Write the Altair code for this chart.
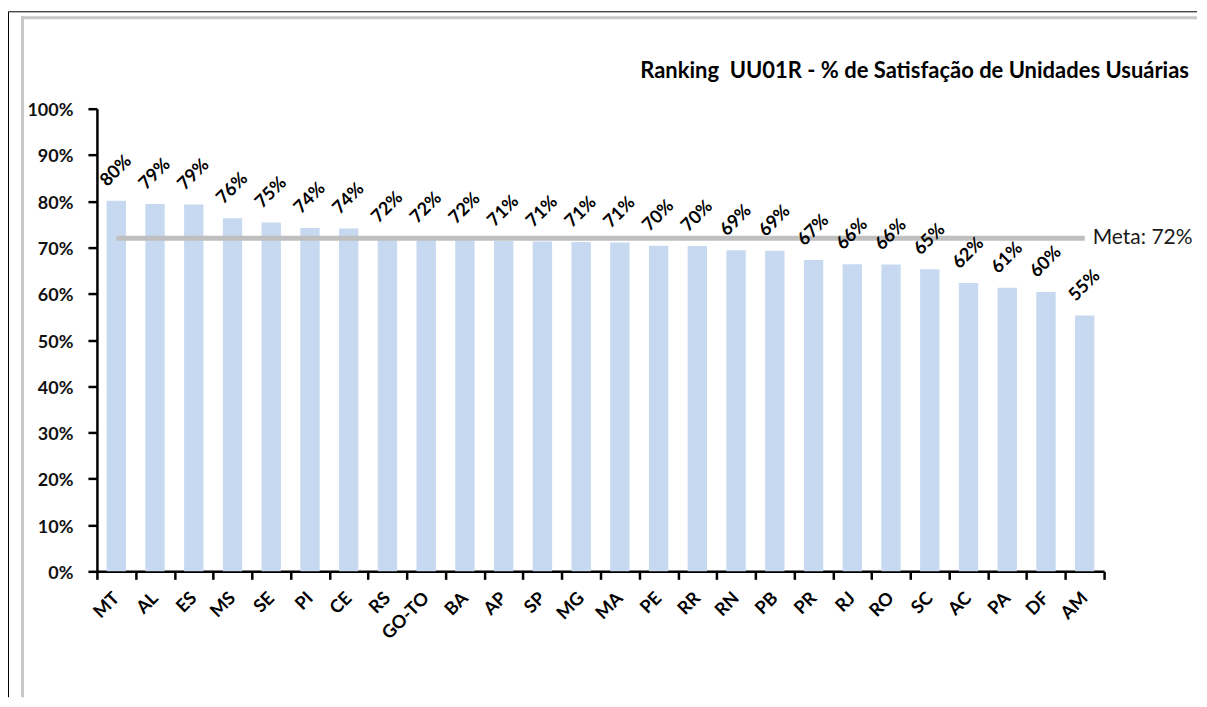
import altair as alt
import pandas as pd

states = ["MT", "AL", "ES", "MS", "SE", "PI", "CE", "RS", "GO-TO", "BA", "AP", "SP", "MG",
          "MA", "PE", "RR", "RN", "PB", "PR", "RJ", "RO", "SC", "AC", "PA", "DF", "AM"]
values = [80.1, 79.4, 79.3, 76.3, 75.4, 74.2, 74.1, 72.2, 72.1, 72.0, 71.4, 71.3, 71.2,
          71.1, 70.4, 70.3, 69.4, 69.3, 67.3, 66.4, 66.3, 65.3, 62.3, 61.3, 60.4, 55.3]
meta_value = 72
meta_label = "Meta: 72%"
title_text = "Ranking\u00a0 UU01R - % de Satisfação de Unidades Usuárias"
y_ticks = [0, 10, 20, 30, 40, 50, 60, 70, 80, 90, 100]

FONT = "Lato"

df = pd.DataFrame({"uf": states, "v": values})
df["label"] = [f"{round(v):.0f}%" for v in values]
df["meta"] = meta_value

meta_df = pd.DataFrame({"uf": [states[-1]], "meta": [meta_value], "t": [meta_label]})
one = pd.DataFrame({"a": [0]})
title_df = pd.DataFrame({"t": [title_text]})

x_enc = alt.X(
    "uf:N", sort=states,
    scale=alt.Scale(paddingInner=0, paddingOuter=0),
    axis=alt.Axis(
        title=None, labelAngle=-45, labelAlign="right", labelBaseline="middle",
        labelPadding=16, tickBand="extent", tickSize=8, tickWidth=2.5, tickColor="black",
        domainColor="black", domainWidth=2.5, labelFontSize=18, labelFontWeight="bold",
        labelFont=FONT, labelColor="black", grid=False,
    ),
)
y_scale = alt.Scale(domain=[0, 100], nice=False)
y_enc = alt.Y(
    "v:Q", scale=y_scale,
    axis=alt.Axis(
        title=None, values=y_ticks, labelExpr="datum.value + '%'", tickSize=9,
        tickWidth=2.5, tickColor="black", domainColor="black", domainWidth=2.5,
        labelFontSize=18, labelFontWeight="bold", labelFont=FONT, labelColor="#111111",
        labelPadding=15, labelOffset=2, grid=False,
    ),
)

base = alt.Chart(df)

bars = base.mark_bar(width=alt.RelativeBandSize(0.5), color="#c6d9f1").encode(x=x_enc, y=y_enc)

meta_line = base.mark_line(color="#bfbfbf", strokeWidth=5).encode(
    x=alt.X("uf:N", sort=states), y=alt.Y("meta:Q", scale=y_scale)
)

labels = base.mark_text(
    angle=315, align="center", baseline="middle", dx=21, dy=-21, fontSize=18,
    fontWeight="bold", font=FONT, color="black",
).encode(x=alt.X("uf:N", sort=states), y=alt.Y("v:Q", scale=y_scale), text="label:N")

meta_text = alt.Chart(meta_df).mark_text(
    align="left", baseline="middle", dx=8, fontSize=21, font=FONT, color="#1a1a1a",
).encode(x=alt.X("uf:N", sort=states), y=alt.Y("meta:Q", scale=y_scale), text="t:N")

title_mark = alt.Chart(title_df).mark_text(
    align="right", baseline="alphabetic", fontSize=22, font=FONT, fontWeight="bold",
    color="black",
).encode(x=alt.value(1093), y=alt.value(-31), text="t:N")

frame_black_top = alt.Chart(one).mark_rule(color="black", strokeWidth=1).encode(
    x=alt.value(-88.5), x2=alt.value(1101), y=alt.value(-97)
)
frame_black_left = alt.Chart(one).mark_rule(color="black", strokeWidth=1).encode(
    x=alt.value(-88.5), y=alt.value(-97), y2=alt.value(589)
)
frame_gray_top = alt.Chart(one).mark_rule(color="#c8c8c8", strokeWidth=3).encode(
    x=alt.value(-76), x2=alt.value(1101), y=alt.value(-91)
)
frame_gray_left = alt.Chart(one).mark_rule(color="#c8c8c8", strokeWidth=3).encode(
    x=alt.value(-74.5), y=alt.value(-92.5), y2=alt.value(589)
)

chart = alt.layer(
    bars, meta_line, labels, meta_text, title_mark,
    frame_black_top, frame_black_left, frame_gray_top, frame_gray_left,
).properties(
    width=1008, height=463,
    padding={"left": 0, "top": 2.5, "right": 0, "bottom": 0},
    background="white",
).configure_view(stroke="transparent", strokeWidth=0)

chart.save("out.html", embed_options={"renderer": "svg", "actions": False})
